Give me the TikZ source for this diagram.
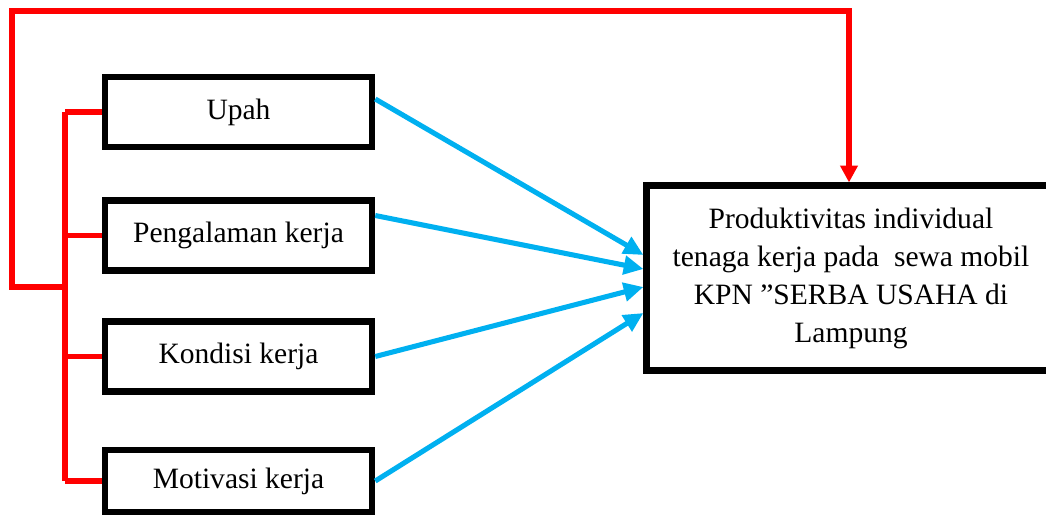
\documentclass[tikz,border=0pt]{standalone}
\usepackage{fontspec}
\setmainfont{Liberation Serif}
\usepackage{xcolor}
\usepackage{tikz}
\usetikzlibrary{arrows.meta, positioning, calc}
\definecolor{linkblue}{HTML}{00B0F0}
\definecolor{linkred}{HTML}{FF0000}

\begin{document}
\begin{tikzpicture}[
    x=0.025cm, y=-0.025cm,
    font=\fontsize{21}{27}\selectfont,
    factor/.style={rectangle, draw, line width=4.6pt, minimum width=6.675cm, minimum height=1.75cm, align=center},
    result/.style={rectangle, draw, line width=5pt, minimum width=10.2cm, minimum height=4.6cm, align=center},
    arr/.style={-{Triangle[length=14pt, width=13pt]}, line width=3.6pt, linkblue},
    link/.style={line width=3.6pt, linkred}
]
\clip (0,0) rectangle (1046,514);

% Factors
\node[factor] (upah) at (238.5, 112) {Upah};
\node[factor] (peng) at (238.5, 235.5) {Pengalaman kerja};
\node[factor] (kond) at (238.5, 356.5) {Kondisi kerja};
\node[factor, minimum height=1.55cm] (moti) at (238.5, 481) {Motivasi kerja};

% Result
\node[result] (prod) at (851, 278) {Produktivitas individual\\tenaga kerja pada\ \ sewa mobil\\KPN ”SERBA USAHA di\\Lampung};

% Arrows
\draw[arr] ([yshift=0.325cm]upah.east) -- ([yshift=0.575cm]prod.west);
\draw[arr] ([yshift=0.5cm]peng.east) -- ([yshift=0.225cm]prod.west);
\draw[arr] (kond.east) -- ([yshift=-0.225cm]prod.west);
\draw[arr] (moti.east) -- ([yshift=-0.875cm]prod.west);

% Red links
\coordinate (bus) at (65, 287);
\coordinate (corner) at (12, 11);
\draw[link] (bus |- upah.west) -- (bus |- moti.west);
\foreach \n in {upah, peng, kond, moti} {
    \draw[link] (bus |- \n.west) -- (\n.west);
}
\draw[link, -{Triangle[length=12pt, width=12pt]}] (bus) -- (bus -| corner) -- (corner) -- ([xshift=-0.05cm]corner -| prod.north) -- ([xshift=-0.05cm]prod.north);

\end{tikzpicture}
\end{document}
